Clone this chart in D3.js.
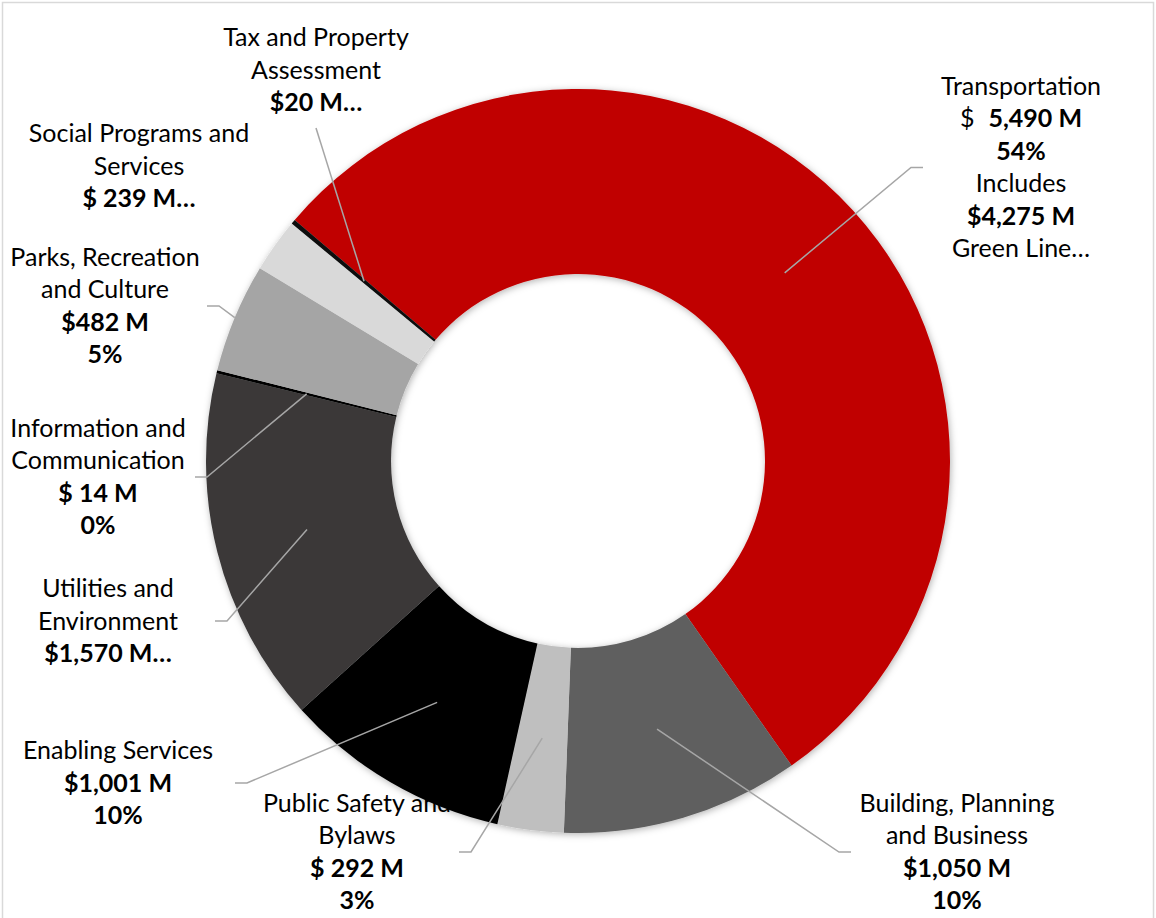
<!DOCTYPE html>
<html>
<head>
<meta charset="utf-8">
<script src="https://cdn.jsdelivr.net/npm/d3@7/dist/d3.min.js"></script>
<style>
  html, body { margin: 0; padding: 0; background: #fff; }
  svg { display: block; }
  text { font-family: Lato, "Noto Sans", sans-serif; fill: #000; }
</style>
</head>
<body>
<svg id="chart" width="1156" height="918"></svg>
<script>
// Capital budget by service line, $ millions (clockwise from Transportation)
const categories = [
  ["Transportation"],
  ["Building, Planning", "and Business"],
  ["Public Safety and", "Bylaws"],
  ["Enabling Services"],
  ["Utilities and", "Environment"],
  ["Information and", "Communication"],
  ["Parks, Recreation", "and Culture"],
  ["Social Programs and", "Services"],
  ["Tax and Property", "Assessment"]
];
const spending = [5490, 1050, 292, 1001, 1570, 14, 482, 239, 20];
// Currency tag printed ahead of each amount
const currencyTags = ["$", "$", "$ ", "$", "$", "$ ", "$", "$ ", "$"];
// Labels whose text box cut the amount short
const clipped = [false, false, false, false, true, false, false, true, true];
// Green Line share inside Transportation
const greenLineAmount = 4275;

const palette = ["#c00000", "#5f5f5f", "#bfbfbf", "#000000", "#3a3838",
                 "#000000", "#a5a5a5", "#d9d9d9", "#0d0d0d"];

// Label boxes: centre x, middle y, which side the leader leaves from and that edge
const labelLayout = [
  { x: 1021, y: 167.5, side: "left",  edge: 923 },
  { x: 957,  y: 852,   side: "left",  edge: 851 },
  { x: 357,  y: 852,   side: "right", edge: 459 },
  { x: 118,  y: 783,   side: "right", edge: 235 },
  { x: 108,  y: 621,   side: "right", edge: 215 },
  { x: 98,   y: 477,   side: "right", edge: 195 },
  { x: 105,  y: 306,   side: "right", edge: 207, reach: "outer" },
  { x: 139,  y: 166,   side: "none" },
  { x: 316,  y: 70,    side: "bottom", edge: 128 }
];

const W = 1156, H = 918;
const cx = 578, cy = 461;
const outerR = 372, innerR = 187;
const lineH = 32.4;
const fontSize = 25;
const textNudge = -1.5;

const svg = d3.select("#chart");

// chart frame
svg.append("rect")
  .attr("x", 2.5).attr("y", 2.5)
  .attr("width", 1151).attr("height", 1000)
  .attr("fill", "#fff")
  .attr("stroke", "#d9d9d9").attr("stroke-width", 1.5);

const defs = svg.append("defs");
const shadow = defs.append("filter").attr("id", "ringShadow")
  .attr("x", "-10%").attr("y", "-10%").attr("width", "120%").attr("height", "120%");
shadow.append("feDropShadow")
  .attr("dx", 1).attr("dy", 1.5).attr("stdDeviation", 3.5)
  .attr("flood-color", "#000").attr("flood-opacity", 0.3);

const total = d3.sum(spending);
const pct = d3.format(".0%");
const num = d3.format(",");

const startAngle = -49.6 * Math.PI / 180;
const pie = d3.pie().sort(null).value(d => d)
  .startAngle(startAngle).endAngle(startAngle + 2 * Math.PI);
const arcs = pie(spending);

const arc = d3.arc().innerRadius(innerR).outerRadius(outerR);
const midArc = d3.arc().innerRadius((innerR + outerR) / 2).outerRadius((innerR + outerR) / 2);
const rimArc = d3.arc().innerRadius(outerR).outerRadius(outerR);

// ---- labels (sit underneath the ring) ----
const labelG = svg.append("g").attr("font-size", fontSize);

categories.forEach((name, i) => {
  const lines = [];
  name.forEach(t => lines.push({ parts: [{ t, bold: false }] }));
  const amount = num(spending[i]) + " M" + (clipped[i] ? "\u2026" : "");
  if (i === 0) {
    lines.push({ parts: [{ t: "$", bold: false }, { t: num(spending[i]) + " M", bold: true, dx: 14 }] });
  } else {
    lines.push({ parts: [{ t: currencyTags[i] + amount, bold: true }] });
  }
  if (!clipped[i]) lines.push({ parts: [{ t: pct(spending[i] / total), bold: true }] });
  if (i === 0) {
    lines.push({ parts: [{ t: "Includes", bold: false }] });
    lines.push({ parts: [{ t: "$" + num(greenLineAmount) + " M", bold: true }] });
    lines.push({ parts: [{ t: "Green Line\u2026", bold: false }] });
  }
  const L = labelLayout[i];
  const n = lines.length;
  lines.forEach((ln, k) => {
    const txt = labelG.append("text")
      .attr("x", L.x)
      .attr("y", L.y + textNudge + (k - (n - 1) / 2) * lineH)
      .attr("text-anchor", "middle")
      .attr("dominant-baseline", "central")
      .style("white-space", "pre");
    ln.parts.forEach(p => {
      const ts = txt.append("tspan")
        .attr("font-weight", p.bold ? 700 : 400)
        .text(p.t);
      if (p.dx) ts.attr("dx", p.dx);
    });
  });
});

// ---- ring ----
svg.append("g")
  .attr("transform", `translate(${cx},${cy})`)
  .attr("filter", "url(#ringShadow)")
  .selectAll("path")
  .data(arcs)
  .join("path")
  .attr("d", arc)
  .attr("fill", (d, i) => palette[i]);

// ---- leader lines ----
const leaderG = svg.append("g")
  .attr("fill", "none")
  .attr("stroke", "#a6a6a6")
  .attr("stroke-width", 1.5);

arcs.forEach((d, i) => {
  const L = labelLayout[i];
  if (L.side === "none") return;
  const c = (L.reach === "outer" ? rimArc : midArc).centroid(d);
  const tip = [cx + c[0], cy + c[1]];
  let pts;
  if (L.side === "bottom") {
    pts = [[L.x, L.edge], tip];
  } else {
    const dir = L.side === "left" ? -1 : 1;
    pts = [[L.edge, L.y], [L.edge + dir * 12, L.y], tip];
  }
  leaderG.append("path").attr("d", d3.line()(pts));
});
</script>
</body>
</html>
